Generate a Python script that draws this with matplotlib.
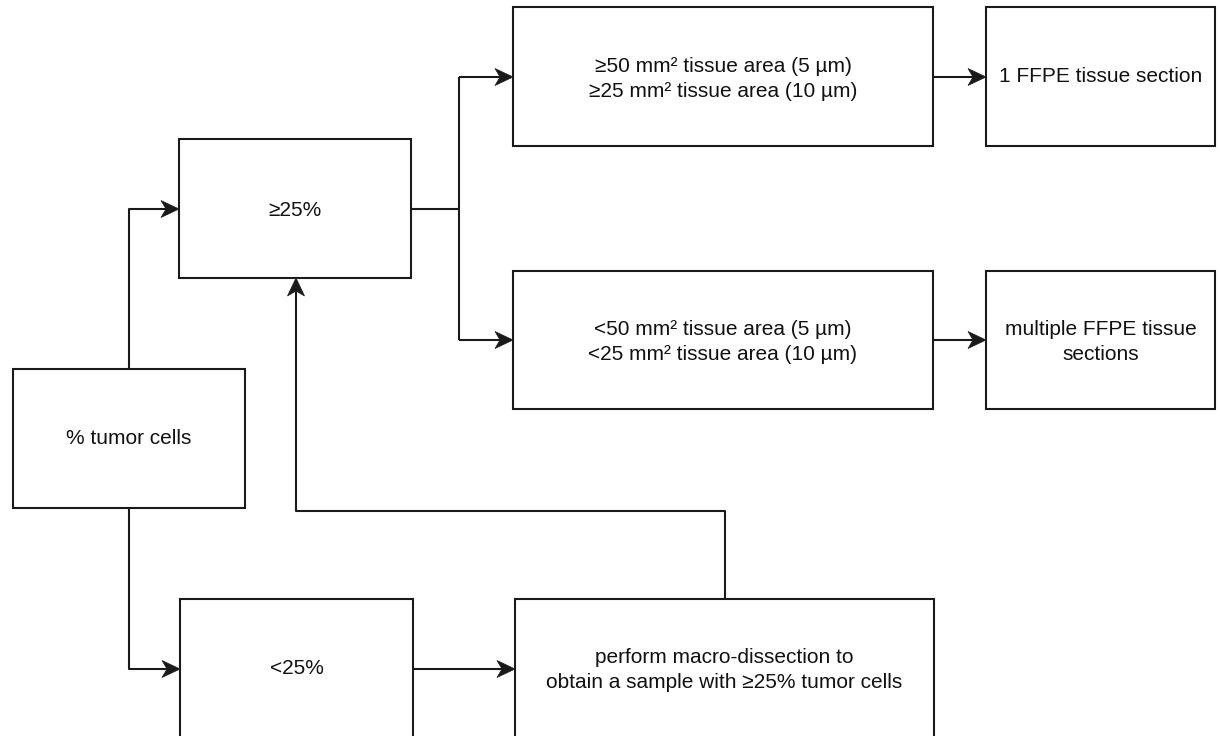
import matplotlib.pyplot as plt
from matplotlib.patches import Rectangle, Polygon

plt.rcParams['font.family'] = ['Liberation Sans', 'DejaVu Sans']

# box labels
labels = ["% tumor cells",
          "\u226525%",
          "<25%",
          "\u226550 mm\u00b2 tissue area (5 \u00b5m)\n\u226525 mm\u00b2 tissue area (10 \u00b5m)",
          "<50 mm\u00b2 tissue area (5 \u00b5m)\n<25 mm\u00b2 tissue area (10 \u00b5m)",
          "1 FFPE tissue section",
          "multiple FFPE tissue\nsections",
          "perform macro-dissection to\nobtain a sample with \u226525% tumor cells"]

# box geometry in pixels: x0, y0, x1, y1 (y down)
boxes = [(13, 369, 245, 508),
         (179, 139, 411, 278),
         (180, 599, 413, 745),
         (513, 7, 933, 146),
         (513, 271, 933, 409),
         (986, 7, 1215, 146),
         (986, 271, 1215, 409),
         (515, 599, 934, 745)]
text_y = [438, 210, 669, 79, 342, 77, 342, 670]

LC = "#1a1a1a"
LW = 1.5

fig = plt.figure(figsize=(12.2, 7.36), dpi=100)
ax = fig.add_axes([0, 0, 1, 1])
ax.set_xlim(0, 1220)
ax.set_ylim(736, 0)
ax.axis("off")

for (x0, y0, x1, y1), lab, ty in zip(boxes, labels, text_y):
    ax.add_patch(Rectangle((x0, y0), x1 - x0, y1 - y0, facecolor="white",
                           edgecolor=LC, lw=LW))
    ax.text((x0 + x1) / 2, ty, lab, ha="center", va="center", fontsize=15,
            color="#111111", linespacing=1.45)

def line(pts):
    xs = [p[0] for p in pts]
    ys = [p[1] for p in pts]
    ax.plot(xs, ys, color=LC, lw=LW, solid_capstyle="butt")

def arrow(p0, p1, L=18, W=17):
    # straight segment ending in a stealth-style head
    dx = (p1[0] - p0[0]); dy = (p1[1] - p0[1])
    n = (dx ** 2 + dy ** 2) ** 0.5
    ux, uy = dx / n, dy / n
    px, py = -uy, ux
    tx, ty = p1
    bx, by = tx - ux * L, ty - uy * L
    nx, ny = tx - ux * L * 0.72, ty - uy * L * 0.72
    line([p0, (nx, ny)])
    ax.add_patch(Polygon([(tx, ty), (bx + px * W / 2, by + py * W / 2), (nx, ny),
                          (bx - px * W / 2, by - py * W / 2)],
                         closed=True, facecolor=LC, edgecolor=LC, lw=0.5))

# % tumor cells -> >=25%
line([(129, 369), (129, 209), (150, 209)])
arrow((150, 209), (179, 209))
# % tumor cells -> <25%
line([(129, 508), (129, 669), (150, 669)])
arrow((150, 669), (180, 669))
# >=25% branch
line([(411, 209), (459, 209)])
line([(459, 77), (459, 340)])
arrow((459, 77), (513, 77))
arrow((459, 340), (513, 340))
# to FFPE boxes
arrow((933, 77), (986, 77))
arrow((933, 340), (986, 340))
# <25% -> macro-dissection
arrow((413, 669), (515, 669))
# feedback loop
line([(725, 599), (725, 511), (296, 511), (296, 320)])
arrow((296, 320), (296, 278))

plt.savefig("out.png", dpi=100)
